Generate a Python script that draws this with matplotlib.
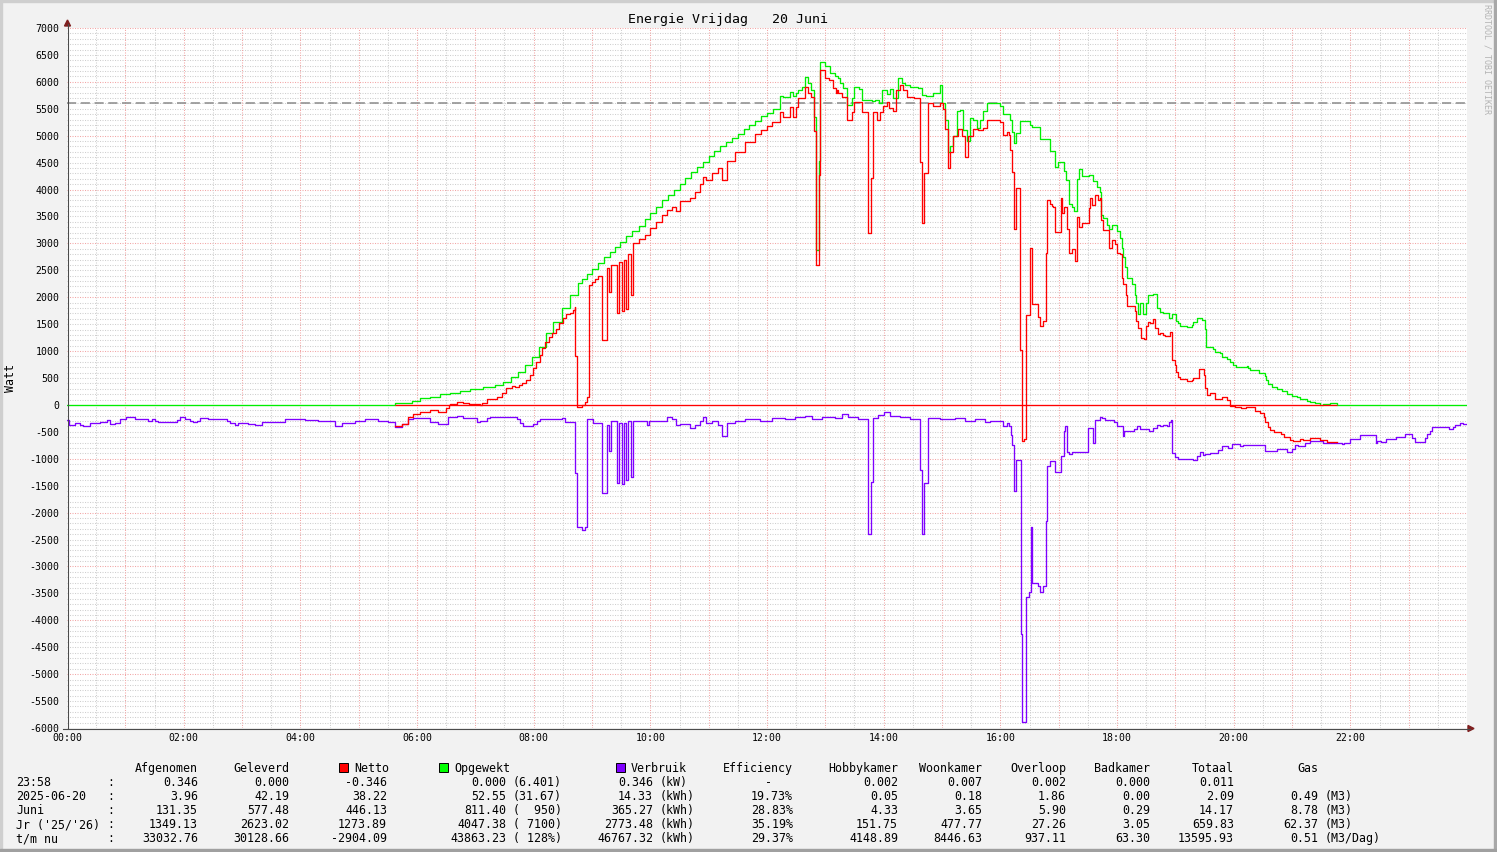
import numpy as np
import matplotlib
matplotlib.use("Agg")
import matplotlib.pyplot as plt
from matplotlib.patches import Rectangle, Polygon

W, H = 1497, 852
MONO = "DejaVu Sans Mono"

# ---------------- data (time in minutes since 00:00, values in Watt) ----------------
t_verbruik = [0, 2, 8, 13, 16, 24, 34, 41, 44, 49, 55, 61, 70, 83, 87, 91, 94, 113, 116, 121,
              127, 130, 134, 137, 142, 145, 165, 168, 173, 176, 186, 193, 201, 224, 245, 258,
              276, 283, 296, 307, 320, 330, 337, 345, 351, 356, 373, 382, 392, 401, 407, 422,
              425, 432, 435, 463, 466, 469, 479, 483, 487, 509, 512, 523, 525, 530, 533, 535,
              541, 550, 555, 557, 560, 566, 568, 571, 573, 575, 577, 580, 582, 597, 599, 617,
              622, 626, 631, 641, 646, 651, 654, 657, 663, 670, 674, 679, 687, 697, 713, 725,
              739, 749, 759, 766, 777, 790, 797, 803, 814, 824, 827, 829, 834, 840, 847, 857,
              867, 877, 879, 882, 886, 898, 913, 924, 934, 944, 949, 963, 967, 969, 971, 972,
              974, 976, 981, 982, 986, 989, 992, 993, 999, 1001, 1004, 1007, 1008, 1011, 1016,
              1022, 1025, 1026, 1029, 1031, 1034, 1050, 1055, 1057, 1063, 1065, 1068, 1077,
              1080, 1086, 1087, 1097, 1101, 1104, 1113, 1117, 1121, 1124, 1127, 1131, 1133,
              1136, 1137, 1140, 1143, 1158, 1162, 1165, 1168, 1170, 1176, 1184, 1188, 1194,
              1198, 1207, 1210, 1232, 1245, 1255, 1260, 1263, 1266, 1273, 1278, 1292, 1311,
              1313, 1320, 1330, 1346, 1347, 1352, 1357, 1367, 1376, 1383, 1386, 1397, 1399,
              1402, 1404, 1421, 1426, 1428, 1433, 1436, 1440]
verbruik = [280, 373, 342, 373, 392, 330, 320, 280, 360, 330, 270, 230, 270, 290, 270, 300, 320,
            280, 230, 270, 290, 320, 290, 237, 250, 270, 290, 330, 365, 330, 350, 380, 320, 260,
            280, 300, 390, 330, 290, 270, 300, 310, 405, 350, 270, 250, 310, 350, 230, 210, 250,
            310, 290, 250, 230, 270, 340, 400, 350, 290, 270, 240, 310, 1258, 2273, 2322, 2273,
            268, 330, 1642, 365, 856, 300, 1456, 330, 1475, 340, 1394, 300, 1333, 290, 370, 290,
            230, 270, 370, 350, 430, 380, 300, 220, 330, 300, 380, 580, 330, 290, 260, 290, 250,
            270, 230, 200, 260, 230, 250, 170, 230, 260, 2400, 1440, 250, 180, 140, 200, 230,
            260, 1200, 2400, 1450, 240, 270, 250, 290, 270, 310, 300, 383, 327, 383, 561, 739,
            1592, 1023, 4256, 5890, 3567, 3476, 2267, 3298, 3371, 3476, 3371, 2160, 1129, 1039,
            1237, 953, 490, 400, 880, 905, 870, 420, 704, 277, 219, 250, 277, 320, 400, 583,
            490, 450, 400, 440, 490, 436, 373, 400, 373, 400, 312, 280, 899, 974, 1011, 1020,
            955, 868, 930, 912, 887, 843, 763, 800, 726, 760, 745, 850, 813, 868, 813, 745, 763,
            713, 665, 713, 730, 713, 640, 559, 713, 665, 690, 640, 590, 541, 620, 695, 620, 541,
            480, 416, 452, 416, 373, 330, 350, 350]

t_opgewekt = [0, 337, 348, 355, 363, 373, 384, 394, 404, 415, 428, 440, 448, 457, 464, 471, 478,
              485, 493, 500, 509, 517, 526, 530, 535, 540, 546, 552, 558, 564, 569, 575, 581,
              588, 594, 600, 606, 612, 618, 624, 630, 636, 642, 648, 654, 660, 666, 672, 678,
              684, 690, 696, 702, 708, 714, 720, 726, 733, 736, 744, 747, 750, 752, 756, 759,
              762, 765, 768, 770, 773, 775, 780, 785, 790, 793, 795, 798, 802, 807, 810, 815,
              818, 828, 831, 835, 838, 843, 847, 850, 855, 859, 862, 867, 875, 879, 884, 891,
              898, 900, 903, 906, 908, 911, 915, 919, 922, 926, 929, 932, 936, 939, 942, 946,
              960, 963, 970, 972, 974, 976, 980, 991, 993, 1001, 1011, 1016, 1019, 1025, 1028,
              1031, 1034, 1036, 1039, 1041, 1044, 1051, 1055, 1059, 1063, 1064, 1066, 1070,
              1072, 1075, 1080, 1083, 1085, 1086, 1088, 1090, 1095, 1098, 1100, 1102, 1104,
              1107, 1110, 1112, 1117, 1121, 1124, 1127, 1133, 1137, 1141, 1143, 1145, 1152,
              1157, 1158, 1162, 1167, 1170, 1172, 1179, 1181, 1186, 1188, 1193, 1196, 1199,
              1202, 1214, 1215, 1217, 1226, 1232, 1233, 1235, 1239, 1245, 1250, 1255, 1260,
              1265, 1268, 1275, 1278, 1284, 1289, 1292, 1299, 1306, 1440]
opgewekt = [0, 41, 30, 78, 134, 153, 196, 227, 264, 300, 338, 369, 431, 524, 617, 741, 896, 1082,
            1330, 1547, 1795, 2043, 2260, 2330, 2430, 2530, 2640, 2740, 2840, 2940, 3030, 3130,
            3230, 3330, 3460, 3560, 3680, 3800, 3900, 4000, 4110, 4220, 4320, 4420, 4520, 4620,
            4710, 4800, 4880, 4960, 5040, 5120, 5200, 5280, 5360, 5430, 5500, 5740, 5720, 5820,
            5740, 5790, 5850, 5900, 6085, 5972, 5850, 5340, 2870, 4530, 6374, 6294, 6158, 6100,
            6065, 5972, 5880, 5570, 5695, 5898, 5860, 5663, 5640, 5663, 5600, 5850, 5780, 5860,
            5700, 6065, 5970, 5950, 5910, 5880, 5760, 5730, 5800, 5950, 5600, 5294, 4705, 4800,
            5000, 5450, 5480, 5100, 4900, 5330, 5300, 5150, 5300, 5450, 5600, 5560, 5400, 5300,
            5060, 4855, 5045, 5280, 5190, 5170, 4940, 4709, 4414, 4520, 4343, 4170, 3738, 3680,
            3597, 4200, 4378, 4246, 4271, 4160, 4054, 3963, 3526, 3475, 3348, 3260, 3348, 3230,
            3100, 2921, 2740, 2566, 2353, 2245, 2033, 1890, 1680, 1890, 1680, 1890, 2047, 2059,
            1794, 1731, 1700, 1608, 1690, 1560, 1515, 1465, 1440, 1480, 1546, 1608, 1570, 1404,
            1081, 1040, 988, 960, 895, 848, 805, 741, 698, 720, 680, 648, 587, 530, 462, 388,
            338, 289, 251, 202, 165, 140, 115, 78, 60, 28, 0, 20, 30, 0, 0]

t_netto = [337, 345, 351, 356, 363, 373, 382, 390, 393, 394, 401, 407, 413, 425, 427, 432, 442,
           447, 452, 458, 461, 465, 468, 472, 476, 479, 482, 486, 489, 492, 496, 499, 503, 506,
           510, 513, 517, 520, 522, 523, 525, 530, 533, 535, 537, 540, 543, 546, 550, 555, 557,
           560, 566, 568, 571, 573, 575, 577, 580, 582, 588, 594, 600, 606, 612, 617, 622, 626,
           631, 641, 646, 651, 654, 657, 663, 670, 674, 679, 687, 697, 708, 714, 720, 725, 733,
           736, 744, 747, 750, 752, 756, 759, 762, 765, 768, 770, 773, 775, 780, 784, 788, 791,
           792, 793, 797, 802, 807, 810, 818, 824, 827, 829, 833, 836, 839, 843, 846, 850, 853,
           857, 860, 864, 871, 877, 879, 882, 886, 891, 898, 901, 903, 906, 908, 911, 916, 921,
           924, 927, 932, 937, 942, 946, 960, 963, 967, 969, 970, 972, 974, 976, 980, 982, 984,
           986, 990, 993, 999, 1001, 1004, 1007, 1008, 1011, 1013, 1014, 1016, 1022, 1023,
           1025, 1029, 1031, 1034, 1037, 1039, 1041, 1044, 1051, 1052, 1054, 1057, 1060, 1063,
           1064, 1066, 1072, 1075, 1078, 1080, 1083, 1085, 1086, 1089, 1090, 1098, 1100, 1102,
           1105, 1108, 1110, 1112, 1114, 1117, 1119, 1122, 1124, 1127, 1129, 1135, 1137, 1140,
           1141, 1143, 1145, 1152, 1157, 1158, 1164, 1169, 1170, 1173, 1176, 1181, 1188, 1193,
           1196, 1201, 1207, 1208, 1213, 1217, 1222, 1227, 1231, 1232, 1235, 1237, 1241, 1249,
           1252, 1258, 1261, 1268, 1271, 1278, 1289, 1296, 1306]
netto = [-385, -350, -219, -175, -126, -100, -126, -62, 0, 17, 48, 30, 17, 0, 42, 104, 155, 216,
         309, 351, 340, 370, 402, 464, 555, 680, 803, 926, 1050, 1174, 1267, 1330, 1405, 1515,
         1608, 1683, 1700, 1762, 1812, 907, -33, 0, 62, 141, 2227, 2289, 2330, 2400, 1205, 2550,
         2100, 2600, 1700, 2650, 1750, 2700, 1780, 2800, 2050, 3000, 3080, 3150, 3290, 3400,
         3520, 3620, 3680, 3600, 3780, 3850, 3950, 4100, 4230, 4170, 4300, 4400, 4170, 4530,
         4700, 4880, 5030, 5100, 5180, 5260, 5445, 5352, 5538, 5352, 5538, 5693, 5693, 5910,
         5800, 5723, 5080, 2600, 4270, 6220, 6065, 6030, 5880, 5800, 5850, 5800, 5720, 5300,
         5445, 5631, 5445, 3186, 4210, 5445, 5300, 5445, 5545, 5620, 5520, 5450, 5849, 5942,
         5849, 5720, 5693, 4517, 3372, 4300, 5600, 5560, 5610, 5500, 5124, 4394, 4700, 5000,
         5120, 5000, 4610, 5000, 5120, 5100, 5140, 5300, 5260, 5020, 5070, 5020, 4734, 4322,
         3263, 4022, 1023, -669, -640, 1677, 2921, 1870, 1627, 1465, 1557, 2815, 3809, 3740,
         3700, 3670, 3205, 3850, 3560, 3670, 3276, 2828, 2900, 2672, 3487, 3300, 3383, 3650,
         3850, 3720, 3895, 3800, 3850, 3430, 3245, 2921, 3055, 2990, 2828, 2800, 2353, 2245,
         2033, 1835, 1753, 1550, 1428, 1251, 1220, 1457, 1540, 1527, 1589, 1422, 1317, 1341,
         1300, 1279, 1360, 834, 741, 617, 524, 475, 449, 470, 493, 660, 560, 308, 184, 216,
         104, 154, 93, -20, -45, -30, -62, -30, -45, -107, -157, -230, -312, -405, -467, -498,
         -542, -590, -652, -665, -640, -652, -607, -652, -683, -683]

limit_line = 5600

y_ticks = list(range(-6000, 7001, 500))
x_tick_hours = list(range(0, 24, 2))

title = "Energie Vrijdag   20 Juni"
row_labels = ["23:58", "2025-06-20", "Juni", "Jr ('25/'26)", "t/m nu"]
col_afgenomen = ["0.346", "3.96", "131.35", "1349.13", "33032.76"]
col_geleverd = ["0.000", "42.19", "577.48", "2623.02", "30128.66"]
col_netto = ["-0.346", "38.22", "446.13", "1273.89", "-2904.09"]
col_opgewekt = ["0.000", "52.55", "811.40", "4047.38", "43863.23"]
col_opgewekt_ref = ["(6.401)", "(31.67)", "(  950)", "( 7100)", "( 128%)"]
col_verbruik = ["0.346", "14.33", "365.27", "2773.48", "46767.32"]
col_verbruik_unit = ["(kW)", "(kWh)", "(kWh)", "(kWh)", "(kWh)"]
col_efficiency = ["-", "19.73%", "28.83%", "35.19%", "29.37%"]
col_hobbykamer = ["0.002", "0.05", "4.33", "151.75", "4148.89"]
col_woonkamer = ["0.007", "0.18", "3.65", "477.77", "8446.63"]
col_overloop = ["0.002", "1.86", "5.90", "27.26", "937.11"]
col_badkamer = ["0.000", "0.00", "0.29", "3.05", "63.30"]
col_totaal = ["0.011", "2.09", "14.17", "659.83", "13595.93"]
col_gas = ["", "0.49", "8.78", "62.37", "0.51"]
col_gas_unit = ["", "(M3)", "(M3)", "(M3)", "(M3/Dag)"]

C_NETTO = "#ff0000"
C_OPGEWEKT = "#00ee00"
C_VERBRUIK = "#7f00ff"

# ---------------- figure ----------------
fig = plt.figure(figsize=(W / 100, H / 100), dpi=100, facecolor="#f2f2f2")


def fx(x):
    return x / W


def fy(y):
    return 1 - y / H


# 3D-ish frame
fig.patches.append(Rectangle((0, fy(2)), 1, 2 / H, transform=fig.transFigure, color="#cfcfcf", zorder=0))
fig.patches.append(Rectangle((0, 0), 2 / W, 1, transform=fig.transFigure, color="#cfcfcf", zorder=0))
fig.patches.append(Rectangle((fx(1494), 0), 3 / W, 1, transform=fig.transFigure, color="#a8a8a8", zorder=0))
fig.patches.append(Rectangle((0, 0), 1, 3 / H, transform=fig.transFigure, color="#a0a0a0", zorder=0))

ax = fig.add_axes([fx(67), fy(728), 1400 / W, 700 / H])
ax.set_facecolor("white")
ax.set_xlim(0, 24)
ax.set_ylim(-6000, 7000)
for s in ax.spines.values():
    s.set_visible(False)

# grid
GRAY = "#cfcfcf"
PINK = "#f2a6a6"
dot = (0, (1, 1.4))
minor_h = [v for v in range(-6000, 7001, 100) if v % 1000 != 0]
major_h = [v for v in range(-6000, 7001, 1000)]
ax.hlines(minor_h, 0, 24, colors=GRAY, linewidth=0.75, linestyles=dot, zorder=1)
ax.hlines(major_h, 0, 24, colors=PINK, linewidth=0.75, linestyles=dot, zorder=1)
ax.vlines([h + 0.5 for h in range(24)], -6000, 7000, colors=GRAY, linewidth=0.75, linestyles=dot, zorder=1)
ax.vlines(list(range(1, 24)), -6000, 7000, colors=PINK, linewidth=0.75, linestyles=dot, zorder=1)

# ticks
ax.set_yticks(y_ticks)
ax.set_yticklabels([str(v) for v in y_ticks], fontfamily=MONO, fontsize=7.1)
ax.set_xticks(x_tick_hours)
ax.set_xticklabels(["%02d:00" % h for h in x_tick_hours], fontfamily=MONO, fontsize=7.1)
ax.tick_params(axis="y", length=0, pad=5.2)
ax.tick_params(axis="x", length=0, pad=3.5)

# limit line
ax.axhline(limit_line, color="#8a8a8a", linewidth=1.1, dashes=(6, 3), zorder=2)

lw = 0.95
tv = np.array(t_verbruik) / 60.0
to = np.array(t_opgewekt) / 60.0
tn = np.array(t_netto) / 60.0
ax.step(to, opgewekt, where="post", color=C_OPGEWEKT, linewidth=lw, zorder=3)
ax.hlines(0, tn[0], tn[-1], colors=C_NETTO, linewidth=lw, zorder=3)
ax.step(tv, -np.array(verbruik), where="post", color=C_VERBRUIK, linewidth=lw, zorder=4)
ax.step(tn, netto, where="post", color=C_NETTO, linewidth=lw, zorder=5)

# axes lines with arrows
AX_COL = "#4b4b4b"
ARROW = "#7f1f1f"
fig.add_artist(plt.Line2D([fx(67.5), fx(67.5)], [fy(728), fy(24)], color=AX_COL, linewidth=0.8))
fig.add_artist(plt.Line2D([fx(63), fx(1470)], [fy(728.5), fy(728.5)], color=AX_COL, linewidth=0.8))
fig.add_artist(Polygon([[fx(64.5), fy(26)], [fx(70.5), fy(26)], [fx(67.5), fy(20)]],
                       closed=True, transform=fig.transFigure, color=ARROW))
fig.add_artist(Polygon([[fx(1468), fy(725.5)], [fx(1468), fy(731.5)], [fx(1474), fy(728.5)]],
                       closed=True, transform=fig.transFigure, color=ARROW))

# texts
fig.text(fx(727.5), fy(19), title, ha="center", va="center", fontfamily=MONO, fontsize=9.5)
fig.text(fx(11), fy(378), "Watt", rotation=90, ha="center", va="center", fontfamily=MONO, fontsize=8.4)
fig.text(fx(1487.5), fy(59), "RRDTOOL / TOBI OETIKER", rotation=270, ha="center", va="center",
         fontfamily=MONO, fontsize=6.0, color="#b4b4b4")

# table
FS = 8.37
hdr_base = 772
row_base = [786, 800, 814, 828, 842]


def t(x, y, s, ha="left"):
    fig.text(fx(x), fy(y), s, ha=ha, va="baseline", fontfamily=MONO, fontsize=FS)


t(198, hdr_base, "Afgenomen", "right")
t(289, hdr_base, "Geleverd", "right")
t(354, hdr_base, "Netto")
t(454, hdr_base, "Opgewekt")
t(631, hdr_base, "Verbruik")
t(793, hdr_base, "Efficiency", "right")
t(898, hdr_base, "Hobbykamer", "right")
t(982, hdr_base, "Woonkamer", "right")
t(1066, hdr_base, "Overloop", "right")
t(1150, hdr_base, "Badkamer", "right")
t(1234, hdr_base, "Totaal", "right")
t(1297, hdr_base, "Gas")
for bx, col in [(339, C_NETTO), (439, "#00ff00"), (616, C_VERBRUIK)]:
    fig.patches.append(Rectangle((fx(bx), fy(772)), 9 / W, 9 / H, transform=fig.transFigure,
                                 facecolor=col, edgecolor="black", linewidth=0.7))

for i, yb in enumerate(row_base):
    t(16, yb, row_labels[i])
    t(107, yb, ":")
    t(198, yb, col_afgenomen[i], "right")
    t(289, yb, col_geleverd[i], "right")
    t(387, yb, col_netto[i], "right")
    t(506, yb, col_opgewekt[i], "right")
    t(513, yb, col_opgewekt_ref[i])
    t(653, yb, col_verbruik[i], "right")
    t(660, yb, col_verbruik_unit[i])
    if col_efficiency[i] == "-":
        t(765, yb, "-")
    else:
        t(793, yb, col_efficiency[i], "right")
    t(898, yb, col_hobbykamer[i], "right")
    t(982, yb, col_woonkamer[i], "right")
    t(1066, yb, col_overloop[i], "right")
    t(1150, yb, col_badkamer[i], "right")
    t(1234, yb, col_totaal[i], "right")
    if col_gas[i]:
        t(1318, yb, col_gas[i], "right")
        t(1325, yb, col_gas_unit[i])

fig.savefig("out.png", dpi=100, facecolor=fig.get_facecolor())
